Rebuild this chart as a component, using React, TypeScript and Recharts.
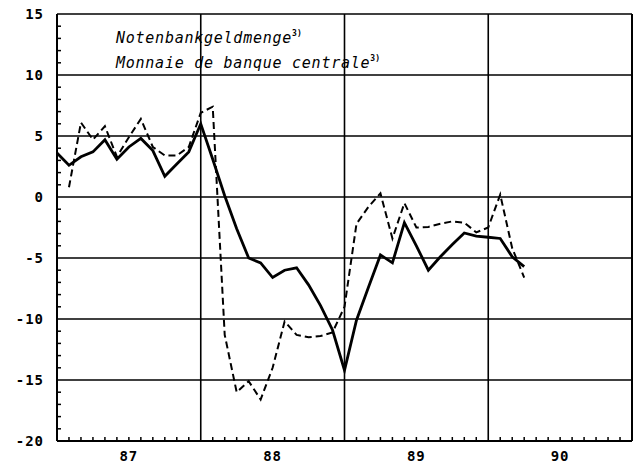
import { LineChart, Line, XAxis, YAxis, ReferenceLine } from 'recharts';

// months since Jan 1987 (0 = Jan 87)
const solidSeries = [
  3.6, 2.6, 3.3, 3.7, 4.7, 3.1, 4.1, 4.8, 3.8, 1.7, 2.7, 3.7,
  6.0, 3.1, 0.1, -2.6, -5.0, -5.4, -6.6, -6.0, -5.8, -7.2, -8.9, -10.9,
  -14.2, -10.1, -7.4, -4.75, -5.4, -2.1, -4.0, -6.0, -4.9, -3.9, -2.95, -3.2,
  -3.3, -3.4, -4.9, -5.7,
];
const dashedSeries = [
  null, 0.8, 6.1, 4.7, 5.8, 3.3, 4.9, 6.4, 4.1, 3.4, 3.4, 4.1,
  6.9, 7.4, -11.3, -16.0, -15.1, -16.6, -14.0, -10.2, -11.3, -11.5, -11.4, -11.1,
  -9.0, -2.2, -0.8, 0.3, -3.4, -0.5, -2.5, -2.45, -2.2, -2.0, -2.1, -2.9,
  -2.5, 0.2, -4.2, -6.6,
];
const yearLabels = ['87', '88', '89', '90'];
const yearBounds = [0, 12, 24, 36, 48];
const monthTicks = Array.from({ length: 49 }, (_, i) => i);
const yMajor = [-20, -15, -10, -5, 0, 5, 10, 15];
const yMinor = Array.from({ length: 36 }, (_, i) => i - 20);

const data = solidSeries.map((v, i) => ({ m: i, solid: v, dashed: dashedSeries[i] }));

const labelFont = '"DejaVu Sans Mono", monospace';

const XTick = (props: any) => {
  const { x, y, payload } = props;
  const v = payload.value as number;
  const isLabel = v % 12 === 6;
  return (
    <g>
      {v % 12 !== 0 && <line x1={x} x2={x} y1={y} y2={y - 4} stroke="#000" strokeWidth={1.5} />}
      {isLabel && (
        <text x={x} y={y + 15} textAnchor="middle" dominantBaseline="central" fontFamily={labelFont} fontSize={14} fontWeight="bold" letterSpacing={1} fill="#000">
          {yearLabels[(v - 6) / 12]}
        </text>
      )}
    </g>
  );
};

const YTick = (props: any) => {
  const { x, y, payload } = props;
  const v = payload.value as number;
  const major = v % 5 === 0;
  return (
    <g>
      {!major && <line x1={x} x2={x + 4} y1={y} y2={y} stroke="#000" strokeWidth={1.5} />}
      {major && (
        <text x={x - 13} y={y} textAnchor="end" dominantBaseline="central" fontFamily={labelFont} fontSize={14} fontWeight="bold" letterSpacing={1} fill="#000">
          {v}
        </text>
      )}
    </g>
  );
};

export default function App() {
  return (
    <div style={{ position: 'absolute', left: 0, top: 0, width: 639, height: 466, background: '#fff' }}>
      <LineChart width={639} height={466} data={data} margin={{ top: 14, right: 7, bottom: 0, left: 0 }}>
        <XAxis
          dataKey="m"
          type="number"
          domain={[0, 48]}
          ticks={monthTicks}
          interval={0}
          height={25}
          tick={<XTick />}
          tickSize={0}
          tickMargin={0}
          tickLine={false}
          axisLine={{ stroke: '#000', strokeWidth: 2 }}
        />
        <YAxis
          type="number"
          domain={[-20, 15]}
          ticks={yMinor}
          interval={0}
          width={57}
          tick={<YTick />}
          tickSize={0}
          tickMargin={0}
          tickLine={false}
          axisLine={{ stroke: '#000', strokeWidth: 2 }}
        />
        {yMajor.map((v) => (
          <ReferenceLine key={'h' + v} y={v} stroke="#000" strokeWidth={1.6} />
        ))}
        {yearBounds.map((v) => (
          <ReferenceLine key={'v' + v} x={v} stroke="#000" strokeWidth={v === 0 || v === 48 ? 2 : 1.6} />
        ))}
        <Line
          type="linear"
          dataKey="dashed"
          stroke="#000"
          strokeWidth={2}
          strokeDasharray="7 4"
          dot={false}
          connectNulls={false}
          isAnimationActive={false}
        />
        <Line
          type="linear"
          dataKey="solid"
          stroke="#000"
          strokeWidth={2.8}
          dot={false}
          isAnimationActive={false}
        />
      </LineChart>
      <div
        style={{
          position: 'absolute',
          left: 116,
          top: 27,
          fontFamily: labelFont,
          fontStyle: 'italic',
          fontSize: 15,
          letterSpacing: 0.75,
          lineHeight: '22px',
          color: '#000',
          whiteSpace: 'nowrap',
        }}
      >
        <div>
          Notenbankgeldmenge
          <span style={{ fontSize: 8, fontWeight: 'bold', fontStyle: 'normal', position: 'relative', top: -7, letterSpacing: 0 }}>3)</span>
        </div>
        <div>
          Monnaie de banque centrale
          <span style={{ fontSize: 8, fontWeight: 'bold', fontStyle: 'normal', position: 'relative', top: -7, letterSpacing: 0 }}>3)</span>
        </div>
      </div>
    </div>
  );
}
